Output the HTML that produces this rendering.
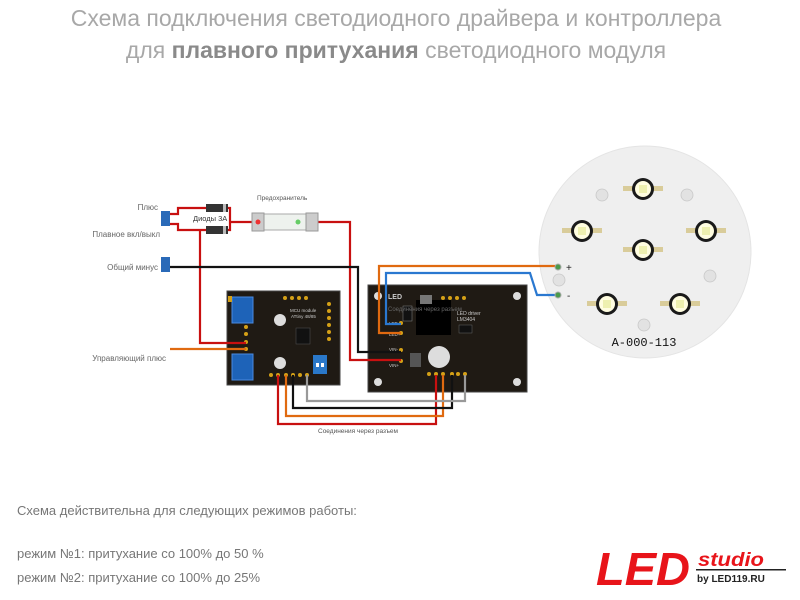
<!DOCTYPE html>
<html><head><meta charset="utf-8"><style>
html,body{margin:0;padding:0;background:#fff;width:800px;height:600px;overflow:hidden}
svg{display:block}
text{font-family:"Liberation Sans","DejaVu Sans",sans-serif}
</style></head><body>
<svg width="800" height="600" viewBox="0 0 800 600" xmlns="http://www.w3.org/2000/svg">
<text x="396" y="26" text-anchor="middle" font-size="23" fill="#a8a8a8">Схема подключения светодиодного драйвера и контроллера</text>
<text x="396" y="58" text-anchor="middle" font-size="23" fill="#a8a8a8">для <tspan font-weight="bold" fill="#8a8a8a">плавного притухания</tspan> светодиодного модуля</text>

<circle cx="645" cy="252" r="106" fill="#efefef" stroke="#e4e4e4"/>
<g fill="#e2e2e2" stroke="#c8c8c8" stroke-width="0.8">
<circle cx="602" cy="195" r="6"/><circle cx="687" cy="195" r="6"/><circle cx="559" cy="280" r="6"/><circle cx="710" cy="276" r="6"/><circle cx="644" cy="325" r="6"/>
</g>
<g>
<g transform="translate(643,189)"><rect x="-20" y="-3" width="40" height="5" fill="#d9cc9a"/><circle r="11" fill="#1a1a1a"/><circle r="8" fill="#fffde0"/><rect x="-4" y="-4" width="8" height="8" fill="#eef0b0"/></g>
<g transform="translate(582,231)"><rect x="-20" y="-3" width="40" height="5" fill="#d9cc9a"/><circle r="11" fill="#1a1a1a"/><circle r="8" fill="#fffde0"/><rect x="-4" y="-4" width="8" height="8" fill="#eef0b0"/></g>
<g transform="translate(706,231)"><rect x="-20" y="-3" width="40" height="5" fill="#d9cc9a"/><circle r="11" fill="#1a1a1a"/><circle r="8" fill="#fffde0"/><rect x="-4" y="-4" width="8" height="8" fill="#eef0b0"/></g>
<g transform="translate(643,250)"><rect x="-20" y="-3" width="40" height="5" fill="#d9cc9a"/><circle r="11" fill="#1a1a1a"/><circle r="8" fill="#fffde0"/><rect x="-4" y="-4" width="8" height="8" fill="#eef0b0"/></g>
<g transform="translate(607,304)"><rect x="-20" y="-3" width="40" height="5" fill="#d9cc9a"/><circle r="11" fill="#1a1a1a"/><circle r="8" fill="#fffde0"/><rect x="-4" y="-4" width="8" height="8" fill="#eef0b0"/></g>
<g transform="translate(680,304)"><rect x="-20" y="-3" width="40" height="5" fill="#d9cc9a"/><circle r="11" fill="#1a1a1a"/><circle r="8" fill="#fffde0"/><rect x="-4" y="-4" width="8" height="8" fill="#eef0b0"/></g>
</g>
<text x="644" y="346" text-anchor="middle" font-size="12" fill="#111" style="font-family:'Liberation Mono',monospace">A-000-113</text>
<text x="566" y="271" font-size="10" fill="#222">+</text>
<text x="567" y="299" font-size="10" fill="#222">-</text>

<rect x="227" y="291" width="113" height="94" fill="#1f1a14" stroke="#444"/>
<rect x="232" y="297" width="21" height="26" fill="#1e63b8" stroke="#4a8ae0"/>
<rect x="232" y="354" width="21" height="26" fill="#1e63b8" stroke="#4a8ae0"/>
<rect x="228" y="296" width="4" height="6" fill="#d4a017"/>
<circle cx="280" cy="320" r="6" fill="#ddd"/><circle cx="280" cy="363" r="6" fill="#ddd"/>
<rect x="296" y="328" width="14" height="16" fill="#111" stroke="#555" stroke-width=".5"/>
<rect x="313" y="355" width="14" height="19" fill="#2a78c9"/>
<rect x="316" y="363" width="3" height="4" fill="#fff"/><rect x="321" y="363" width="3" height="4" fill="#fff"/>
<text x="290" y="312" font-size="4.5" fill="#ccc">MCU module</text>
<text x="291" y="318" font-size="4.5" fill="#ccc">ATtiny 48/85</text>
<g fill="#d4a017"><circle cx="285" cy="298" r="2"/><circle cx="292" cy="298" r="2"/><circle cx="299" cy="298" r="2"/><circle cx="306" cy="298" r="2"/>
<circle cx="329" cy="304" r="2"/><circle cx="329" cy="311" r="2"/><circle cx="329" cy="318" r="2"/><circle cx="329" cy="325" r="2"/><circle cx="329" cy="332" r="2"/><circle cx="329" cy="339" r="2"/>
<circle cx="246" cy="327" r="2"/><circle cx="246" cy="334" r="2"/><circle cx="246" cy="342" r="2"/><circle cx="246" cy="349" r="2"/>
<circle cx="271" cy="375" r="2"/><circle cx="278" cy="375" r="2"/><circle cx="286" cy="375" r="2"/><circle cx="293" cy="375" r="2"/><circle cx="300" cy="375" r="2"/><circle cx="307" cy="375" r="2"/></g>

<rect x="368" y="285" width="159" height="107" fill="#1f1a14" stroke="#444"/>
<g fill="#ddd"><circle cx="378" cy="296" r="4"/><circle cx="517" cy="296" r="4"/><circle cx="378" cy="382" r="4"/><circle cx="517" cy="382" r="4"/></g>
<rect x="416" y="300" width="35" height="35" fill="#000"/>
<rect x="420" y="295" width="12" height="9" fill="#777"/>
<rect x="403" y="306" width="9" height="15" fill="#111" stroke="#888" stroke-width=".5"/>
<rect x="459" y="325" width="13" height="8" fill="#111" stroke="#666" stroke-width=".5"/>
<circle cx="439" cy="357" r="11" fill="#ddd"/>
<rect x="410" y="353" width="11" height="14" fill="#555"/>
<text x="388" y="299" font-size="7" font-weight="bold" fill="#ccc">LED</text>
<text x="388" y="311" font-size="6" fill="#666">Соединения через разъем</text>
<text x="457" y="315" font-size="5" fill="#ccc">LED driver</text>
<text x="457" y="321" font-size="5" fill="#ccc">LM3404</text>
<text x="389" y="325" font-size="4.5" fill="#ccc">LED-</text><text x="389" y="336" font-size="4.5" fill="#ccc">LED+</text>
<text x="389" y="351" font-size="4.5" fill="#ccc">VIN-</text><text x="389" y="367" font-size="4.5" fill="#ccc">VIN+</text>
<g fill="#d4a017"><circle cx="443" cy="298" r="2"/><circle cx="450" cy="298" r="2"/><circle cx="457" cy="298" r="2"/><circle cx="464" cy="298" r="2"/>
<circle cx="401" cy="323" r="2"/><circle cx="401" cy="333" r="2"/><circle cx="401" cy="350" r="2"/><circle cx="401" cy="361" r="2"/>
<circle cx="429" cy="374" r="2"/><circle cx="436" cy="374" r="2"/><circle cx="443" cy="374" r="2"/><circle cx="452" cy="374" r="2"/><circle cx="458" cy="374" r="2"/><circle cx="465" cy="374" r="2"/></g>

<g fill="none" stroke-width="2.2" stroke-linejoin="miter">
<polyline points="170,214 178,214 178,208 230,208 230,230 200,230 178,230 178,224 170,224" stroke="#c81010"/>
<polyline points="230,222 320,222 350,222 350,360 401,360" stroke="#c81010"/>
<polyline points="200,230 200,343 246,343" stroke="#c81010"/>
<polyline points="170,267 358,267 358,352 401,352" stroke="#111"/>
<polyline points="170,349 246,349" stroke="#e06a10"/>
<polyline points="401,333 379,333 379,266 557,266" stroke="#e06a10"/>
<polyline points="401,324 386,324 386,273 530,273 537,295 557,295" stroke="#2a78d0"/>
<polyline points="278,375 278,424 436,424 436,375" stroke="#c81010"/>
<polyline points="286,375 286,416 443,416 443,375" stroke="#e06a10"/>
<polyline points="293,375 293,408 452,408 452,375" stroke="#111"/>
<polyline points="307,375 307,401 465,401 465,375" stroke="#999"/>
</g>
<circle cx="558" cy="267" r="3" fill="#4a9a4a" stroke="#aaa"/>
<circle cx="558" cy="295" r="3" fill="#4a9a4a" stroke="#aaa"/>

<rect x="206" y="204" width="22" height="8" fill="#333"/><rect x="223" y="204" width="3" height="8" fill="#bbb"/>
<rect x="206" y="226" width="22" height="8" fill="#333"/><rect x="223" y="226" width="3" height="8" fill="#bbb"/>
<text x="193" y="221" font-size="7.5" fill="#333">Диоды 3А</text>
<rect x="252" y="214" width="66" height="16" fill="#eef2ee" stroke="#aaa"/>
<rect x="252" y="213" width="12" height="18" fill="#ccc" stroke="#999"/>
<rect x="306" y="213" width="12" height="18" fill="#ccc" stroke="#999"/>
<circle cx="258" cy="222" r="2.5" fill="#e33"/><circle cx="298" cy="222" r="2.5" fill="#6c6"/>
<text x="257" y="200" font-size="6.5" fill="#555">Предохранитель</text>

<rect x="161" y="211" width="9" height="15" fill="#2a6ab8"/>
<rect x="161" y="257" width="9" height="15" fill="#2a6ab8"/>
<text x="158" y="210" font-size="8" fill="#666" text-anchor="end">Плюс</text>
<text x="160" y="237" font-size="8" fill="#666" text-anchor="end">Плавное вкл/выкл</text>
<text x="158" y="270" font-size="8" fill="#666" text-anchor="end">Общий минус</text>
<text x="166" y="361" font-size="8" fill="#666" text-anchor="end">Управляющий плюс</text>
<text x="358" y="433" font-size="6.5" fill="#555" text-anchor="middle">Соединения через разъем</text>

<text x="17" y="515" font-size="13" fill="#777">Схема действительна для следующих режимов работы:</text>
<text x="17" y="558" font-size="13" fill="#777">режим №1:  притухание со 100% до 50 %</text>
<text x="17" y="582" font-size="13" fill="#777">режим №2: притухание со 100% до 25%</text>

<text x="596" y="585" font-size="46" font-weight="bold" font-style="italic" fill="#e8141a" textLength="94" lengthAdjust="spacingAndGlyphs">LED</text>
<text x="698" y="566" font-size="19" font-weight="bold" font-style="italic" fill="#e8141a" textLength="66" lengthAdjust="spacingAndGlyphs">studio</text>
<rect x="696" y="569" width="90" height="1.5" fill="#222"/>
<text x="697" y="582" font-size="10" font-weight="bold" fill="#222">by LED119.RU</text>
</svg>
</body></html>
